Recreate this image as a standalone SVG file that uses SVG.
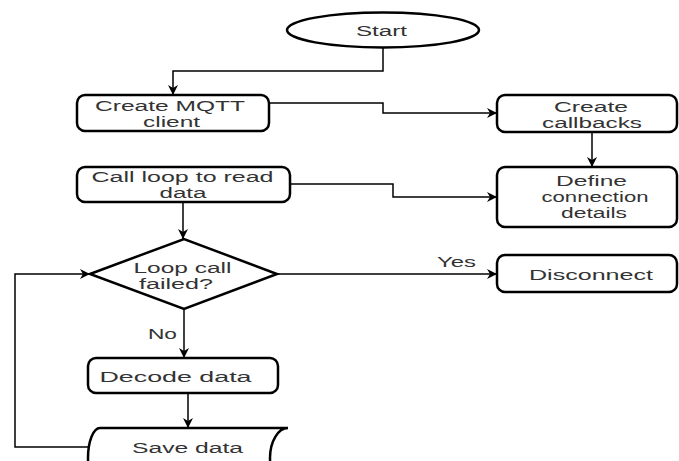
<svg xmlns="http://www.w3.org/2000/svg" width="679" height="461" viewBox="0 0 679 461">
  <style>
    .shape { fill: #ffffff; stroke: #000000; stroke-width: 2.5; }
    .edge { fill: none; stroke: #000000; stroke-width: 1.5; }
    .label { font-family: "Liberation Sans", Arial, sans-serif; font-size: 15.5px; fill: #333333; text-anchor: middle; }
    .tag { font-family: "Liberation Sans", Arial, sans-serif; font-size: 15.5px; fill: #333333; }
  </style>
  <defs>
    <marker id="arrow" markerUnits="userSpaceOnUse" markerWidth="11" markerHeight="11" refX="10" refY="5.5" orient="auto">
      <path d="M0,0.5 L10,5.5 L0,10.5 L3,5.5 z" fill="#000000"/>
    </marker>
  </defs>
  <rect width="679" height="461" fill="#ffffff"/>

  <!-- connectors -->
  <g id="connectors">
    <path class="edge" d="M383 48 V71 H173 V95" marker-end="url(#arrow)"/>
    <path class="edge" d="M269 103 H383 V113 H497" marker-end="url(#arrow)"/>
    <path class="edge" d="M592 132 V167" marker-end="url(#arrow)"/>
    <path class="edge" d="M290 184 H393 V197 H497" marker-end="url(#arrow)"/>
    <path class="edge" d="M183 202 V239" marker-end="url(#arrow)"/>
    <path class="edge" d="M277 274 H497" marker-end="url(#arrow)"/>
    <path class="edge" d="M184 309 V358" marker-end="url(#arrow)"/>
    <path class="edge" d="M188 393 V428" marker-end="url(#arrow)"/>
    <path class="edge" d="M89 447 H15 V274 H90" marker-end="url(#arrow)"/>
    <text class="tag" x="437" y="267" textLength="39" lengthAdjust="spacingAndGlyphs">Yes</text>
    <text class="tag" x="148" y="339" textLength="29" lengthAdjust="spacingAndGlyphs">No</text>
  </g>

  <g id="start">
    <ellipse class="shape" cx="383" cy="30" rx="96" ry="17.5"/>
    <text class="label" x="381.5" y="36" textLength="51" lengthAdjust="spacingAndGlyphs">Start</text>
  </g>

  <g id="create-client">
    <rect class="shape" x="77" y="95" width="192" height="36" rx="8"/>
    <text class="label" x="170" y="110.5" textLength="150" lengthAdjust="spacingAndGlyphs">Create MQTT</text>
    <text class="label" x="171.5" y="127" textLength="57" lengthAdjust="spacingAndGlyphs">client</text>
  </g>

  <g id="create-callbacks">
    <rect class="shape" x="497" y="95" width="180" height="37" rx="8"/>
    <text class="label" x="591" y="111.5" textLength="74" lengthAdjust="spacingAndGlyphs">Create</text>
    <text class="label" x="592" y="127.5" textLength="100" lengthAdjust="spacingAndGlyphs">callbacks</text>
  </g>

  <g id="define-connection">
    <rect class="shape" x="497" y="167" width="180" height="60" rx="8"/>
    <text class="label" x="591.5" y="186" textLength="71" lengthAdjust="spacingAndGlyphs">Define</text>
    <text class="label" x="595" y="202" textLength="107" lengthAdjust="spacingAndGlyphs">connection</text>
    <text class="label" x="594" y="218" textLength="66" lengthAdjust="spacingAndGlyphs">details</text>
  </g>

  <g id="call-loop">
    <rect class="shape" x="77" y="167" width="213" height="35" rx="8"/>
    <text class="label" x="182.5" y="182" textLength="182" lengthAdjust="spacingAndGlyphs">Call loop to read</text>
    <text class="label" x="183" y="198" textLength="47" lengthAdjust="spacingAndGlyphs">data</text>
  </g>

  <g id="loop-failed">
    <polygon class="shape" points="90,274 184,239 277,274 184,309"/>
    <text class="label" x="182.5" y="272.5" textLength="98" lengthAdjust="spacingAndGlyphs">Loop call</text>
    <text class="label" x="176" y="288.5" textLength="74" lengthAdjust="spacingAndGlyphs">failed?</text>
  </g>

  <g id="disconnect">
    <rect class="shape" x="497" y="255" width="180" height="37" rx="8"/>
    <text class="label" x="591" y="279.5" textLength="124" lengthAdjust="spacingAndGlyphs">Disconnect</text>
  </g>

  <g id="decode-data">
    <rect class="shape" x="88" y="358" width="190" height="35" rx="8"/>
    <text class="label" x="175.5" y="381.5" textLength="152" lengthAdjust="spacingAndGlyphs">Decode data</text>
  </g>

  <g id="save-data">
    <path class="shape" d="M100 428 H288 A18 30 0 0 0 288 488 H100 A12 30 0 0 1 100 428 Z"/>
    <text class="label" x="187.5" y="452.5" textLength="111" lengthAdjust="spacingAndGlyphs">Save data</text>
  </g>
</svg>
